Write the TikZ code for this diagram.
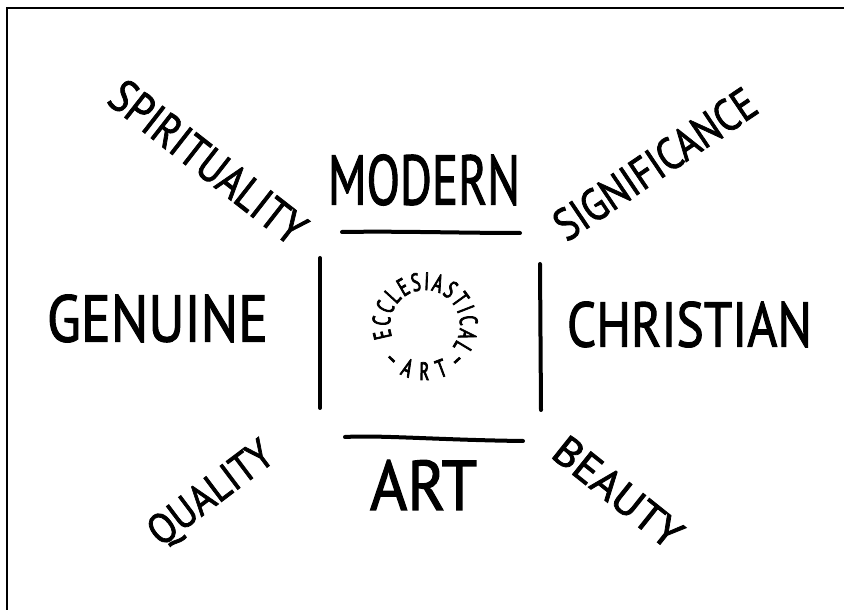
\documentclass[tikz,border=0pt]{standalone}
\usepackage{graphicx}
\usepackage{fontspec}
\setmainfont{PT Sans}[FakeBold=1.8]
\newfontfamily\condfont[FakeStretch=0.66,FakeBold=3]{PT Sans}
\usetikzlibrary{decorations.text}
\newcommand{\fitword}[3]{\resizebox{#1pt}{#2pt}{#3}}
\tikzset{
  word/.style={inner sep=0pt, anchor=center},
  rule/.style={line width=4pt, line cap=round},
  frame/.style={line width=2.5pt}
}
\begin{document}
\begin{tikzpicture}[x=1pt,y=1pt]
\useasboundingbox (0,0) rectangle (844,610);
% frame
\coordinate (fbl) at (7,0);
\coordinate (ftl) at (7,602);
\coordinate (ftr) at (844,602);
\draw[frame] (fbl) -- (ftl) -- (ftr);
% main words
\node[word] (modern) at (424,430) {\fitword{192}{50}{MODERN}};
\node[word] (art) at (423.5,125) {\fitword{107}{50}{ART}};
\node[word] (genuine) at (157.5,291.5) {\fitword{221}{47}{GENUINE}};
\node[word] (christian) at (689.5,285.5) {\fitword{245}{45}{CHRISTIAN}};
% diagonal words
\node[word, rotate=-38] (spirit) at (208,448) {\fitword{235}{33}{SPIRITUALITY}};
\node[word, rotate=34] (signif) at (655,446) {\fitword{234}{32}{SIGNIFICANCE}};
\node[word, rotate=37] (quality) at (212,115) {\fitword{145}{30}{QUALITY}};
\node[word, rotate=-38.6] (beauty) at (618,118) {\fitword{152}{30}{BEAUTY}};
% square of rules
\coordinate (t1) at (342,378);
\coordinate (t2) at (520,377);
\coordinate (b1) at (345,173);
\coordinate (b2) at (523,169);
\coordinate (l1) at (320,352);
\coordinate (l2) at (320,202);
\coordinate (r1) at (540,346);
\coordinate (r2) at (541,200);
\draw[rule] (t1) .. controls (400,379) and (460,377) .. (t2);
\draw[rule] (b1) .. controls (380,175) and (440,170) .. (b2);
\draw[rule] (l1) -- (l2);
\draw[rule] (r1) -- (r2);
% circular text
\coordinate (cc) at (425,285);
\begingroup
\condfont\fontsize{25}{25}\selectfont
\path[decorate, decoration={text along path,
  text={ECCLESIASTICAL},
  text align={fit to path}}]
  (cc) ++(200:35) arc[start angle=200, end angle=-38, radius=35];
\path[decorate, decoration={text along path,
  text={–ART–},
  text align={fit to path}}]
  (cc) ++(-140:55) arc[start angle=-140, end angle=-42, radius=55];
\endgroup
\end{tikzpicture}
\end{document}
